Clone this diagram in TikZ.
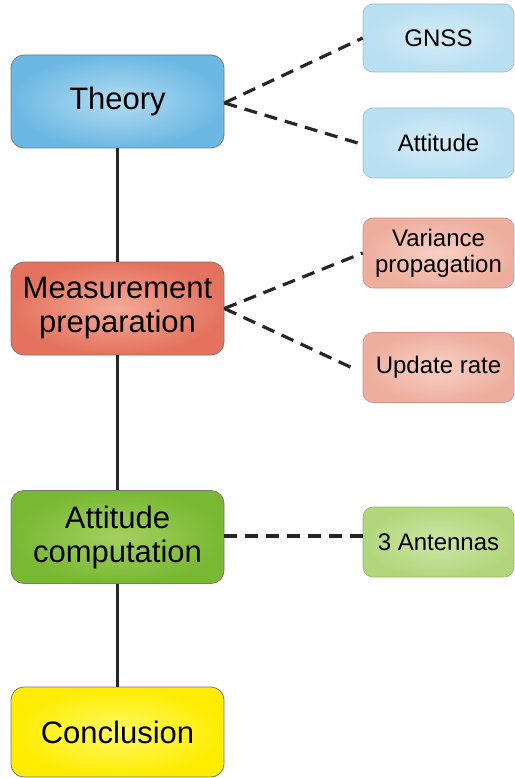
\documentclass[tikz,border=0pt]{standalone}
\usepackage{fontspec}
\setmainfont{Liberation Sans}
\definecolor{blueout}{RGB}{108,184,228}
\definecolor{bluein}{RGB}{178,220,240}
\definecolor{lblueout}{RGB}{184,223,242}
\definecolor{lbluein}{RGB}{214,236,247}
\definecolor{redout}{RGB}{228,114,94}
\definecolor{redin}{RGB}{244,170,150}
\definecolor{lredout}{RGB}{238,174,158}
\definecolor{lredin}{RGB}{249,208,196}
\definecolor{greenout}{RGB}{120,184,50}
\definecolor{greenin}{RGB}{164,208,96}
\definecolor{lgreenout}{RGB}{178,214,124}
\definecolor{lgreenin}{RGB}{206,230,166}
\definecolor{yellowout}{RGB}{255,236,0}
\definecolor{yellowin}{RGB}{255,249,100}
\definecolor{boxedge}{RGB}{120,120,120}
\begin{document}
\begin{tikzpicture}[x=1pt,y=-1pt,
  mainbox/.style={rectangle, rounded corners=13pt, draw=boxedge, line width=0.8pt,
    minimum width=213pt, minimum height=93pt, inner sep=0pt, align=center,
    font=\fontsize{31}{34}\selectfont},
  subbox/.style={rectangle, rounded corners=10pt, line width=0.6pt,
    minimum width=151pt, minimum height=70pt, inner sep=0pt, align=center,
    font=\fontsize{24}{26}\selectfont},
  trunk/.style={line width=2.8pt, black!85},
  branch/.style={line width=3.2pt, black!85, dash pattern=on 13pt off 8pt}]
\useasboundingbox (0,0) rectangle (514,778);

% main column
\node[mainbox, inner color=bluein, outer color=blueout] (theory) at (117.5,101.5) {Theory};
\node[mainbox, inner color=redin, outer color=redout] (prep) at (117.5,308.5) {Measurement\\preparation};
\node[mainbox, inner color=greenin, outer color=greenout] (comp) at (117.5,537) {Attitude\\computation};
\node[mainbox, inner color=yellowin, outer color=yellowout, minimum height=90pt] (concl) at (117.5,732) {Conclusion};

% side topics
\node[subbox, draw=lblueout!85!black, inner color=lbluein, outer color=lblueout, minimum height=68pt] (gnss) at (438.5,38) {GNSS};
\node[subbox, draw=lblueout!85!black, inner color=lbluein, outer color=lblueout] (att) at (438.5,143) {Attitude};
\node[subbox, draw=lredout!85!black, inner color=lredin, outer color=lredout] (var) at (438.5,253) {Variance\\propagation};
\node[subbox, draw=lredout!85!black, inner color=lredin, outer color=lredout] (upd) at (438.5,367.5) {Update rate};
\node[subbox, draw=lgreenout!85!black, inner color=lgreenin, outer color=lgreenout] (ant) at (438.5,542) {3 Antennas};

% trunk connectors
\draw[trunk] (theory.south) -- (prep.north);
\draw[trunk] (prep.south) -- (comp.north);
\draw[trunk] (comp.south) -- (concl.north);

% dashed branches
\coordinate (tb) at ([yshift=-1.5pt]theory.east);
\coordinate (pb) at (prep.east);
\draw[branch] (tb) -- (gnss.west);
\draw[branch] (tb) -- ([xshift=-5pt]att.west);
\draw[branch] (pb) -- (var.west);
\draw[branch] (pb) -- ([xshift=-7pt,yshift=-2pt]upd.west);
\draw[branch] ([yshift=1pt]comp.east) -- ([yshift=1pt]comp.east -| ant.west);
\end{tikzpicture}
\end{document}
